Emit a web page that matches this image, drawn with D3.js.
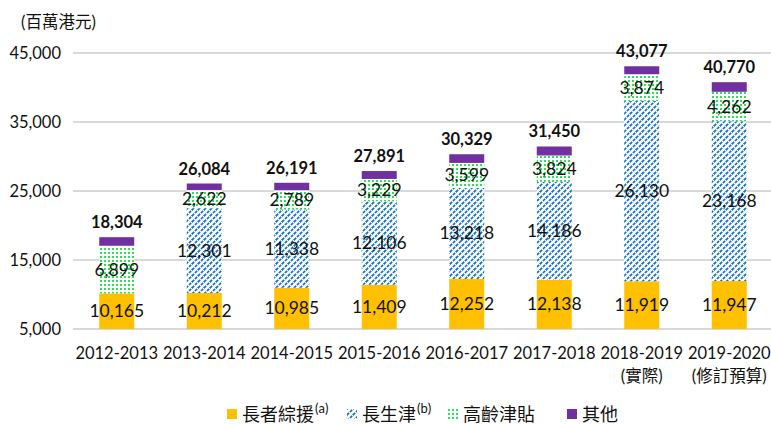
<!DOCTYPE html>
<html lang="en">
<head>
<meta charset="utf-8">
<script src="https://cdn.jsdelivr.net/npm/d3@7"></script>
<style>
  body {margin: 0; background: #fff;}
  text {font-family: Lato, "Noto Sans CJK TC", sans-serif; fill: #111;}
</style>
</head>
<body>
<script>
// data (millions HKD)
const years = ["2012-2013", "2013-2014", "2014-2015", "2015-2016", "2016-2017", "2017-2018", "2018-2019", "2019-2020"];
const yearNotes = ["", "", "", "", "", "", "(實際)", "(修訂預算)"];
const cssa = [10165, 10212, 10985, 11409, 12252, 12138, 11919, 11947];
const lla = [0, 12301, 11338, 12106, 13218, 14186, 26130, 23168];
const oaa = [6899, 2622, 2789, 3229, 3599, 3824, 3874, 4262];
const other = [1240, 949, 1079, 1147, 1260, 1302, 1154, 1393];
const totals = [18304, 26084, 26191, 27891, 30329, 31450, 43077, 40770];
const yTicks = [5000, 15000, 25000, 35000, 45000];
const seriesKeys = ["cssa", "lla", "oaa", "other"];
const seriesNames = ["長者綜援", "長生津", "高齡津貼", "其他"];
const seriesSup = ["(a)", "(b)", "", ""];

const W = 771, H = 424;
const margin = {left: 73, right: -2, top: 53, bottom: 95};

const svg = d3.select("body").append("svg").attr("width", W).attr("height", H);

// patterns
const defs = svg.append("defs");
const dots = defs.append("pattern").attr("id", "dots").attr("patternUnits", "userSpaceOnUse")
    .attr("width", 4).attr("height", 4);
dots.append("rect").attr("width", 4).attr("height", 4).attr("fill", "#fff");
dots.append("rect").attr("width", 2).attr("height", 2).attr("fill", "#2de05a");

const diag = defs.append("pattern").attr("id", "diag").attr("patternUnits", "userSpaceOnUse")
    .attr("width", 6).attr("height", 6);
diag.append("rect").attr("width", 6).attr("height", 6).attr("fill", "#fff");
diag.append("path").attr("d", "M0,6 L6,0 M-1,1 L1,-1 M5,7 L7,5")
    .attr("stroke", "#0a6fc2").attr("stroke-width", 1.7).attr("stroke-dasharray", "3,1.24");

const fills = {cssa: "#ffc000", lla: "url(#diag)", oaa: "url(#dots)", other: "#7030a0"};

const data = years.map((y, i) => ({year: y, cssa: cssa[i], lla: lla[i], oaa: oaa[i], other: other[i], total: totals[i]}));

const x = d3.scaleBand().domain(years).range([margin.left, W - margin.right]).paddingInner(0.6).paddingOuter(0.3);
const y = d3.scaleLinear().domain([5000, 45000]).range([H - margin.bottom, margin.top]);

// gridlines
svg.append("g").selectAll("line").data(yTicks).join("line")
    .attr("x1", margin.left).attr("x2", W)
    .attr("y1", d => y(d)).attr("y2", d => y(d))
    .attr("stroke", "#d9d9d9").attr("stroke-width", 2);

svg.append("g").selectAll("text").data(yTicks).join("text")
    .attr("x", 61).attr("y", d => y(d) + 6)
    .attr("text-anchor", "end").attr("font-size", 16.5)
    .text(d => d3.format(",")(d));

svg.append("text").attr("x", 21).attr("y", 28).attr("font-size", 16.5).text("(百萬港元)");

// stacks, clipped at axis bottom
const stack = d3.stack().keys(seriesKeys)(data);
const clipY = y(5000);

svg.append("g").selectAll("g").data(stack).join("g")
    .attr("fill", d => fills[d.key])
  .selectAll("rect").data(d => d).join("rect")
    .attr("x", d => x(d.data.year))
    .attr("width", x.bandwidth())
    .attr("y", d => y(d[1]))
    .attr("height", d => Math.max(0, Math.min(clipY, y(d[0])) - y(d[1])));

// segment labels (skip other + empty)
const labelLayers = stack.filter(s => s.key !== "other");
svg.append("g").selectAll("g").data(labelLayers).join("g")
  .selectAll("text").data(d => d.filter(p => p[1] - p[0] > 0)).join("text")
    .attr("x", d => x(d.data.year) + x.bandwidth() / 2)
    .attr("y", d => (Math.min(clipY, y(d[0])) + y(d[1])) / 2 + 6)
    .attr("text-anchor", "middle").attr("font-size", 17.5)
    .text(d => d3.format(",")(d[1] - d[0]));

// totals
svg.append("g").selectAll("text").data(data).join("text")
    .attr("x", d => x(d.year) + x.bandwidth() / 2)
    .attr("y", d => y(d.total) - 9)
    .attr("text-anchor", "middle").attr("font-size", 16.5).attr("font-weight", "bold")
    .text(d => d3.format(",")(d.total));

// x labels
const xl = svg.append("g").selectAll("text").data(years).join("text")
    .attr("x", d => x(d) + x.bandwidth() / 2)
    .attr("text-anchor", "middle").attr("font-size", 16.5);
xl.append("tspan").attr("x", d => x(d) + x.bandwidth() / 2).attr("y", 359).text(d => d);
xl.append("tspan").attr("x", d => x(d) + x.bandwidth() / 2).attr("y", 382).text((d, i) => yearNotes[i]);

// legend
const legX = [227, 347, 448, 567];
const leg = svg.append("g").selectAll("g").data(seriesKeys).join("g")
    .attr("transform", (d, i) => `translate(${legX[i]},409)`);
leg.append("rect").attr("width", 10).attr("height", 10).attr("y", 0)
    .attr("fill", d => fills[d]);
const lt = leg.append("text").attr("x", 15).attr("y", 12).attr("font-size", 18).attr("fill", "#333");
lt.append("tspan").text((d, i) => seriesNames[i]);
lt.append("tspan").attr("dy", -8).attr("dx", 1).attr("font-size", 13).text((d, i) => seriesSup[i]);
</script>
</body>
</html>
